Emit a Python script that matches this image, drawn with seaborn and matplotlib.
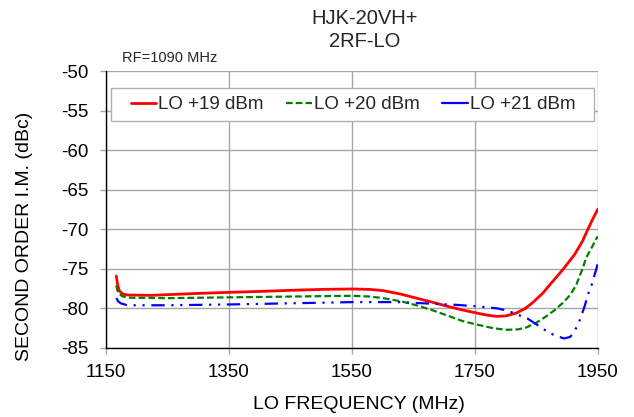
import numpy as np
import pandas as pd
import seaborn as sns
import matplotlib
matplotlib.use("Agg")
import matplotlib.pyplot as plt
from matplotlib.patches import Rectangle


# LO +19 dBm
freq_19 = [1167, 1169, 1172, 1178, 1185, 1223, 1300, 1350, 1400, 1466, 1510, 1551,
           1580, 1601, 1630, 1655, 1680, 1709, 1730, 1751, 1770, 1785, 1800, 1817,
           1832, 1845, 1860, 1872, 1893, 1912, 1925, 1932, 1941, 1950]
im_19 = [-75.9, -77.0, -77.8, -78.2, -78.3, -78.35, -78.1, -77.97, -77.85, -77.67, -77.58, -77.54,
         -77.6, -77.75, -78.2, -78.7, -79.2, -79.8, -80.2, -80.55, -80.85, -81.0, -80.95, -80.6,
         -80.0, -79.2, -78.1, -77.0, -75.1, -73.2, -71.5, -70.3, -68.8, -67.45]

# LO +20 dBm
freq_20 = [1167, 1169, 1172, 1178, 1190, 1250, 1350, 1450, 1551, 1580, 1601, 1630,
           1655, 1680, 1709, 1730, 1751, 1780, 1801, 1820, 1834, 1850, 1866, 1880,
           1893, 1905, 1915, 1925, 1931, 1940, 1948, 1950]
im_20 = [-77.1, -77.8, -78.2, -78.5, -78.65, -78.7, -78.6, -78.5, -78.4, -78.5, -78.7, -79.1,
         -79.6, -80.2, -81.0, -81.6, -82.0, -82.5, -82.7, -82.65, -82.4, -81.8, -81.0, -80.2,
         -79.3, -78.3, -77.0, -75.0, -73.6, -72.3, -71.1, -70.9]

# LO +21 dBm
freq_21 = [1167, 1170, 1174, 1185, 1250, 1350, 1450, 1551, 1628, 1692, 1720, 1755,
           1787, 1804, 1820, 1836, 1850, 1861, 1877, 1895, 1905, 1910, 1916, 1921,
           1929, 1934, 1940, 1949, 1950]
im_21 = [-78.7, -79.1, -79.35, -79.6, -79.6, -79.5, -79.35, -79.2, -79.2, -79.45, -79.55, -79.75,
         -80.0, -80.3, -80.8, -81.3, -82.0, -82.6, -83.3, -83.8, -83.6, -83.1, -82.3, -81.4,
         -79.6, -78.2, -77.0, -74.6, -74.3]

x_ticks = [1150, 1350, 1550, 1750, 1950]
y_ticks = [-50, -55, -60, -65, -70, -75, -80, -85]


sns.set_theme(style="white")
plt.rcParams['font.family'] = ['Liberation Sans', 'DejaVu Sans']
plt.rcParams['axes.unicode_minus'] = False

fig = plt.figure(figsize=(6.34, 4.17), dpi=100)
ax = fig.add_axes([0.167, 0.1655, 0.776, 0.664])

sns.lineplot(x=freq_19, y=im_19, ax=ax, color='#ff0000', linewidth=2.0,
             label='LO +19 dBm', sort=False)
sns.lineplot(x=freq_20, y=im_20, ax=ax, color='#008000', linewidth=1.6,
             linestyle=(0, (3, 1.4)), label='LO +20 dBm', sort=False)
sns.lineplot(x=freq_21, y=im_21, ax=ax, color='#0000ff', linewidth=1.6,
             linestyle=(0, (6, 3, 1, 3, 1, 3)), label='LO +21 dBm', sort=False)

ax.set_xlim(1150, 1950)
ax.set_ylim(-85, -50)
ax.set_xticks(x_ticks)
ax.set_yticks(y_ticks)
ax.grid(True, color='#a6a6a6', linewidth=1.0)
ax.set_axisbelow(True)

for s in ['top', 'right']:
    ax.spines[s].set_visible(False)
for s in ['left', 'bottom']:
    ax.spines[s].set_color('black')
    ax.spines[s].set_linewidth(1.0)

ax.tick_params(axis='both', which='major', labelsize=13.5, direction='out',
               length=4.5, width=1, color='#a6a6a6', left=True, bottom=True,
               labelcolor='black')
ax.tick_params(axis='y', pad=8)
ax.tick_params(axis='x', pad=7)

ax.set_xlabel('LO FREQUENCY (MHz)', fontsize=14, color='black')
ax.set_ylabel('SECOND ORDER I.M. (dBc)', fontsize=14, color='black')
ax.xaxis.set_label_coords(0.5136, -0.2058)
ax.xaxis.label.set_va('center')
ax.yaxis.set_label_coords(-0.1646, 0.404)
ax.yaxis.label.set_va('center')

leg = ax.legend(loc='center', bbox_to_anchor=(0.502, 0.879), ncol=3,
                fontsize=13.5, frameon=False, handlelength=1.35,
                handletextpad=0.1, columnspacing=1.23, borderaxespad=0)
leg.get_lines()[2].set_linestyle('-')
ax.add_patch(Rectangle((0.0102, 0.8195), 0.982, 0.119, transform=ax.transAxes,
                       facecolor='white', edgecolor='#b0b0b0', linewidth=1.0,
                       zorder=4))
leg.set_zorder(5)

fig.text(365 / 634, 1 - 18.5 / 417, 'HJK-20VH+', ha='center', va='center', fontsize=14.5)
fig.text(365 / 634, 1 - 41.5 / 417, '2RF-LO', ha='center', va='center', fontsize=14.5)
fig.text(121.5 / 634, 1 - 58 / 417, 'RF=1090 MHz', ha='left', va='center', fontsize=10.5)

fig.savefig('out.png', dpi=100)
